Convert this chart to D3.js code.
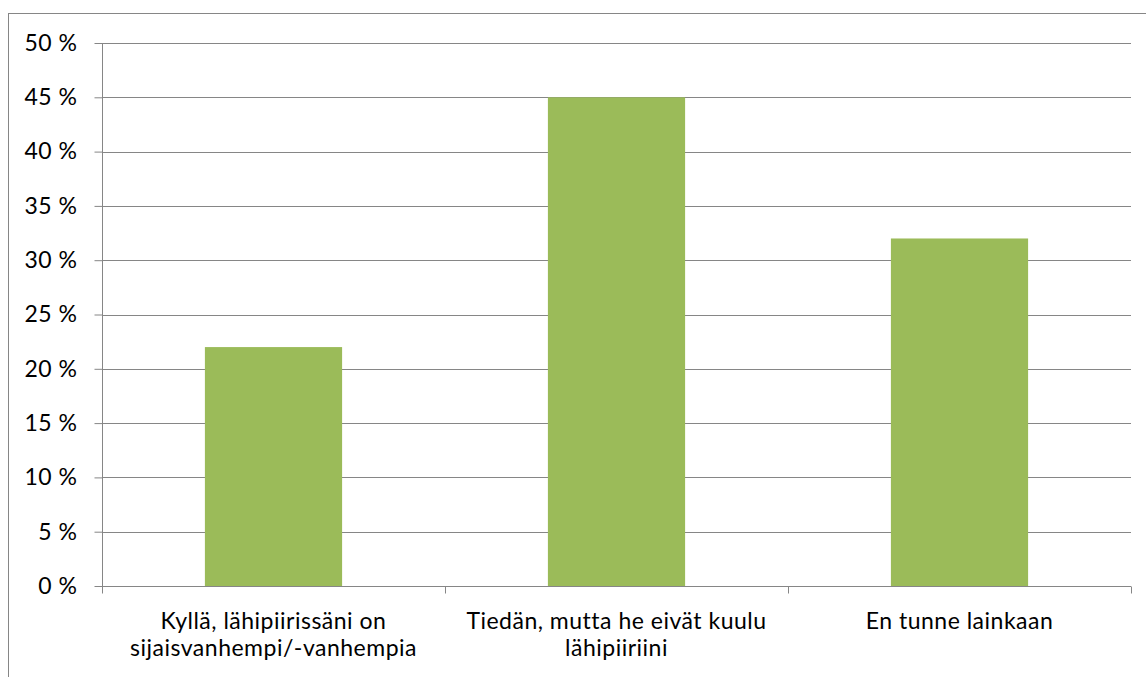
<!DOCTYPE html>
<html><head><meta charset="utf-8">
<script src="https://cdn.jsdelivr.net/npm/d3@7"></script>
<style>body{margin:0;background:#fff}svg{display:block}text{font-family:Lato,"Open Sans",sans-serif;fill:#000;letter-spacing:0.5px}</style>
</head><body><svg id="c" width="1146" height="677"></svg>
<script>
const categories = [["Kyllä, lähipiirissäni on","sijaisvanhempi/-vanhempia"],["Tiedän, mutta he eivät kuulu","lähipiiriini"],["En tunne lainkaan"]];
const values = [22, 45, 32];
const yTicks = [0,5,10,15,20,25,30,35,40,45,50];

(function(){
const FS = 23;
const svg = d3.select("#c");
svg.append("rect").attr("x",8.5).attr("y",13.5).attr("width",1200).attr("height",700)
  .attr("fill","none").attr("stroke","#868686").attr("stroke-width",1);

const pL=102, pR=1131, pT=43, pB=586;
const x = d3.scaleBand().domain(d3.range(categories.length)).range([pL,pR]).paddingInner(0.6).paddingOuter(0.3);
const xb = d3.scaleBand().domain(d3.range(categories.length)).range([pL,pR]);
const y = d3.scaleLinear().domain([0,50]).range([pB,pT]);

svg.append("g").selectAll("line").data(yTicks.filter(d=>d>0)).join("line")
  .attr("x1",pL).attr("x2",pR).attr("y1",d=>Math.round(y(d))+0.5).attr("y2",d=>Math.round(y(d))+0.5)
  .attr("stroke","#868686");

svg.append("g").selectAll("rect").data(values).join("rect")
  .attr("x",(d,i)=>x(i)).attr("width",x.bandwidth())
  .attr("y",d=>y(d)).attr("height",d=>y(0)-y(d)).attr("fill","#9BBB59");

const ya = svg.append("g").attr("transform",`translate(${pL+0.5},0)`)
  .call(d3.axisLeft(y).tickValues(yTicks).tickSize(8).tickPadding(17).tickFormat(d=>d+" %"));
ya.attr("font-size",null).attr("font-family",null);
ya.select(".domain").attr("stroke","#868686").attr("d",`M0,${pT}V${pB}`);
ya.selectAll(".tick line").attr("stroke","#868686");
ya.selectAll(".tick text").style("font-size",FS+"px").attr("fill","#000");

const xa = svg.append("g").attr("transform",`translate(0,${pB+0.5})`);
xa.append("line").attr("x1",pL).attr("x2",pR).attr("stroke","#868686");
const bounds = d3.range(categories.length+1).map(i=> i<categories.length ? xb(i) : pR);
xa.selectAll("line.t").data(bounds).join("line").attr("class","t")
  .attr("x1",d=>Math.round(d)+0.5).attr("x2",d=>Math.round(d)+0.5).attr("y1",0).attr("y2",7).attr("stroke","#868686");
const lab = xa.selectAll("text.c").data(categories).join("text").attr("class","c")
  .attr("text-anchor","middle").style("font-size",FS+"px")
  .attr("transform",(d,i)=>`translate(${xb(i)+xb.bandwidth()/2},0)`);
lab.selectAll("tspan").data(d=>d).join("tspan").attr("x",0).attr("y",(d,i)=>42+i*27).text(d=>d);
})();
</script></body></html>
